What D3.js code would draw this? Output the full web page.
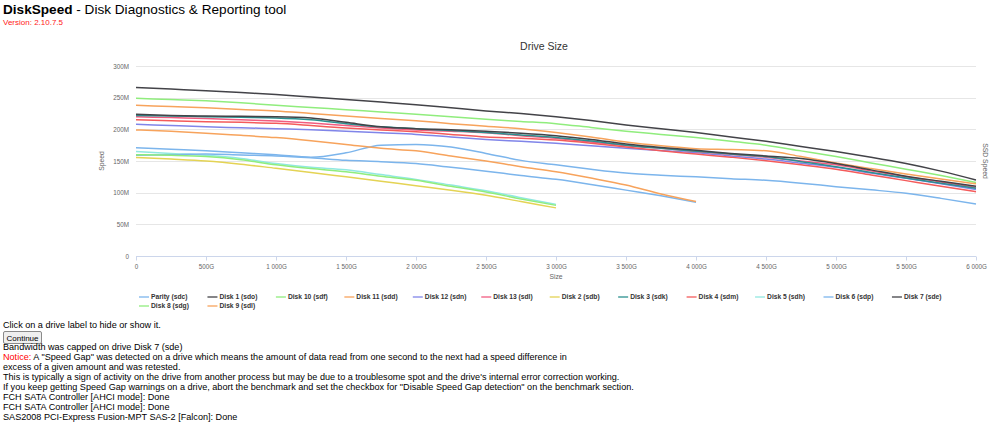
<!DOCTYPE html>
<html>
<head>
<meta charset="utf-8">
<script src="https://cdn.jsdelivr.net/npm/d3@7"></script>
<style>
  body { margin: 0; background: #fff; }
  svg { display: block; font-family: Arial, "Liberation Sans", sans-serif; }
</style>
</head>
<body>
<div id="d3"></div>
<script>
'use strict';

// sizes in GB, one reading every 250G
var sizes = d3.range(0, 6001, 250);

// speeds in MB/s
var parity_sdc = [171, 168.5, 166, 163, 160, 156, 163, 175, 176, 172, 162, 151, 144, 137, 131, 127.5, 125, 122, 119.5, 115, 109.5, 104.5, 99, 91, 82];
var disk1_sdo = [266, 263.5, 261, 258, 255, 251, 247, 243, 239, 234, 229, 225, 220, 214, 207, 201, 195, 188, 181, 173, 165, 156, 146, 134, 120];
var disk10_sdf = [249, 247, 245, 242, 238, 234.5, 231, 227.5, 224, 220, 216, 212.5, 209, 203, 197, 192, 187, 181, 175, 166, 157, 147, 137, 127, 116];
var disk11_sdd = [238, 236, 234, 231.5, 229, 225, 221, 217, 213.5, 209, 205, 201, 195, 188, 180, 174, 169.5, 168, 166, 157, 147, 138, 129.5, 121.5, 114];
var disk12_sdn = [208, 206, 204, 202.5, 201, 199.5, 197, 194.5, 192, 188, 184, 181, 178, 174, 170, 166.5, 163, 158, 153, 146.5, 140, 131, 122.7, 114, 105];
var disk13_sdl = [220, 218.5, 217, 215, 213, 210, 206, 202, 199, 197, 194.5, 190, 186, 180, 174, 170, 165, 160.5, 156, 150, 144, 134.5, 125, 117, 108];
var disk2_sdb = [155.5, 153, 150, 145, 138.5, 132, 125, 118, 111, 104, 96, 86, 76];
var disk3_sdk = [222, 221, 220, 219, 218, 215, 209, 204, 201, 198, 195, 191, 187, 181.5, 175, 170, 165.5, 161, 157, 149, 141, 132, 123, 115, 107];
var disk4_sdm = [215, 213.5, 212, 211, 209.5, 206, 202, 199, 196, 192, 188, 186, 183, 178, 172, 166, 161, 156, 150.5, 144, 137, 128, 119, 110, 101.5];
var disk5_sdh = [165, 162, 159, 154, 146, 140, 136, 128.5, 121, 112, 103, 92, 81.5];
var disk6_sdp = [159, 160, 161, 159.5, 158, 155, 151, 149, 146, 140, 134, 127, 121, 113, 104, 95, 85];
var disk7_sde = [224, 222, 221, 220.5, 220, 218, 211, 204, 201, 199.5, 197, 194, 190, 184, 177, 171.5, 167, 162, 158, 154, 146, 136, 126, 118, 110];
var disk8_sdg = [160, 159, 157, 152, 144, 138, 133, 126, 119.5, 110, 101, 90, 80];
var disk9_sdl = [199, 197, 194, 190.5, 187, 182, 176, 170, 166, 158, 150, 141, 133, 123, 112, 98, 86];

var driveNames = ['Parity (sdc)', 'Disk 1 (sdo)', 'Disk 10 (sdf)', 'Disk 11 (sdd)', 'Disk 12 (sdn)', 'Disk 13 (sdl)',
    'Disk 2 (sdb)', 'Disk 3 (sdk)', 'Disk 4 (sdm)', 'Disk 5 (sdh)', 'Disk 6 (sdp)', 'Disk 7 (sde)', 'Disk 8 (sdg)', 'Disk 9 (sdl)'];
var driveSpeeds = [parity_sdc, disk1_sdo, disk10_sdf, disk11_sdd, disk12_sdn, disk13_sdl,
    disk2_sdb, disk3_sdk, disk4_sdm, disk5_sdh, disk6_sdp, disk7_sde, disk8_sdg, disk9_sdl];
var colors = ['#7cb5ec', '#434348', '#90ed7d', '#f7a35c', '#8085e9', '#f15c80', '#e4d354', '#2b908f', '#f45b5b', '#91e8e1'];

var xTicks = d3.range(0, 6001, 500);
var yTicks = d3.range(0, 301, 50);

var bodyLines = [
    'Bandwidth was capped on drive Disk 7 (sde)',
    '',
    'excess of a given amount and was retested.',
    'This is typically a sign of activity on the drive from another process but may be due to a troublesome spot and the drive\'s internal error correction working.',
    'If you keep getting Speed Gap warnings on a drive, abort the benchmark and set the checkbox for "Disable Speed Gap detection" on the benchmark section.',
    'FCH SATA Controller [AHCI mode]: Done',
    'FCH SATA Controller [AHCI mode]: Done',
    'SAS2008 PCI-Express Fusion-MPT SAS-2 [Falcon]: Done'
];

var svg = d3.select('#d3')
    .append('svg')
    .attr('width', 1000)
    .attr('height', 430);

// page header
var head = svg.append('text').attr('x', 3).attr('y', 14).style('font-size', '13.6px').attr('fill', '#000');
head.append('tspan').style('font-weight', 'bold').text('DiskSpeed');
head.append('tspan').text(' - Disk Diagnostics & Reporting tool');
svg.append('text').attr('x', 3).attr('y', 25).style('font-size', '8px').attr('fill', '#ff2020').text('Version: 2.10.7.5');

// chart
var x = d3.scaleLinear().domain([0, 6000]).range([136, 976]);
var y = d3.scaleLinear().domain([0, 300]).range([256, 66]);

svg.append('text')
    .attr('x', 544).attr('y', 50)
    .attr('text-anchor', 'middle')
    .style('font-size', '10.5px')
    .attr('fill', '#333')
    .text('Drive Size');

svg.append('g').selectAll('line')
    .data(yTicks.slice(1))
    .enter().append('line')
    .attr('x1', 136).attr('x2', 976)
    .attr('y1', function(d) { return Math.round(y(d)) + 0.5; })
    .attr('y2', function(d) { return Math.round(y(d)) + 0.5; })
    .attr('stroke', '#e6e6e6');

var yAxis = svg.append('g')
    .attr('transform', 'translate(129,0)')
    .call(d3.axisLeft(y).tickValues(yTicks).tickSize(0).tickPadding(0)
        .tickFormat(function(d) { return d === 0 ? '0' : d + 'M'; }));
yAxis.select('.domain').remove();
yAxis.selectAll('text').attr('fill', '#666').style('font-size', '6.3px');

var xAxis = svg.append('g')
    .attr('transform', 'translate(0,256.5)')
    .call(d3.axisBottom(x).tickValues(xTicks).tickSize(4).tickPadding(4)
        .tickFormat(function(d) { return d === 0 ? '0' : d3.format(',')(d).replace(',', ' ') + 'G'; }));
xAxis.select('.domain').attr('stroke', '#ccd6eb').attr('d', 'M136,0H976');
xAxis.selectAll('line').attr('stroke', '#ccd6eb');
xAxis.selectAll('text').attr('fill', '#666').style('font-size', '6.3px');

svg.append('text')
    .attr('transform', 'translate(104,161) rotate(-90)')
    .attr('text-anchor', 'middle')
    .style('font-size', '6.8px').attr('fill', '#666')
    .text('Speed');
svg.append('text')
    .attr('transform', 'translate(983,161) rotate(90)')
    .attr('text-anchor', 'middle')
    .style('font-size', '6.8px').attr('fill', '#666')
    .text('SSD Speed');
svg.append('text')
    .attr('x', 556).attr('y', 279)
    .attr('text-anchor', 'middle')
    .style('font-size', '6.8px').attr('fill', '#666')
    .text('Size');

// draw lines
var line = d3.line()
    .x(function(d, i) { return x(sizes[i]); })
    .y(function(d) { return y(d); })
    .curve(d3.curveMonotoneX);

svg.append('g').selectAll('path')
    .data(driveSpeeds)
    .enter().append('path')
    .attr('d', function(d) { return line(d); })
    .attr('fill', 'none')
    .attr('stroke', function(d, i) { return colors[i % colors.length]; })
    .attr('stroke-width', 1.5)
    .attr('stroke-linejoin', 'round');

// legend
var legend = svg.append('g').selectAll('g')
    .data(driveNames)
    .enter().append('g')
    .attr('transform', function(d, i) {
        return 'translate(' + (139 + (i % 12) * 68.45) + ',' + (297 + Math.floor(i / 12) * 9) + ')';
    });
legend.append('line')
    .attr('x1', 0).attr('x2', 10)
    .attr('stroke', function(d, i) { return colors[i % colors.length]; })
    .attr('stroke-width', 1.3);
legend.append('text')
    .attr('x', 12).attr('y', 2.3)
    .style('font-size', '6.7px').style('font-weight', 'bold')
    .attr('fill', '#333')
    .text(function(d) { return d; });

// text under the chart
svg.append('text').attr('x', 3).attr('y', 328).style('font-size', '9.1px').text('Click on a drive label to hide or show it.');
svg.append('rect')
    .attr('x', 3.5).attr('y', 331.5).attr('width', 38).attr('height', 12).attr('rx', 1.5)
    .attr('fill', '#efefef').attr('stroke', '#8a8a8a');
svg.append('text').attr('x', 22.5).attr('y', 340.5).attr('text-anchor', 'middle').style('font-size', '8px').text('Continue');

svg.append('g').selectAll('text')
    .data(bodyLines)
    .enter().append('text')
    .attr('x', 3)
    .attr('y', function(d, i) { return 350 + i * 10; })
    .style('font-size', '9.1px')
    .attr('fill', '#000')
    .text(function(d) { return d; });

var notice = svg.append('text').attr('x', 3).attr('y', 360).style('font-size', '9.1px');
notice.append('tspan').attr('fill', '#ff0000').text('Notice:');
notice.append('tspan').attr('fill', '#000').text(' A "Speed Gap" was detected on a drive which means the amount of data read from one second to the next had a speed difference in');
</script>
</body>
</html>
